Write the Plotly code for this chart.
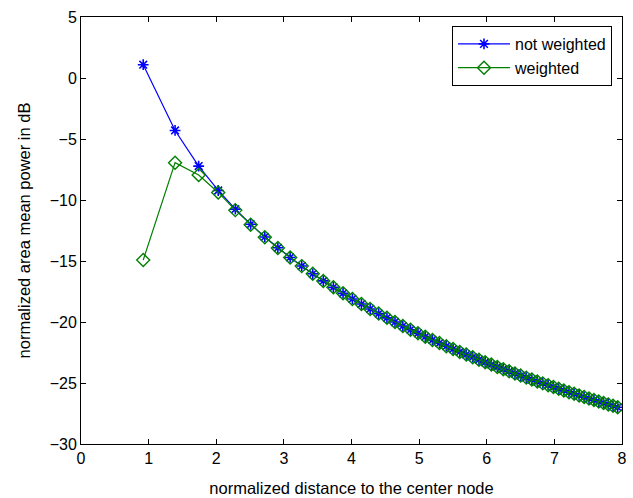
import plotly.graph_objects as go

distance = [0.92, 1.391, 1.740, 2.029, 2.282, 2.509, 2.718, 2.911, 3.093, 3.264,
            3.427, 3.583, 3.732, 3.875, 4.013, 4.147, 4.276, 4.402, 4.524, 4.643,
            4.759, 4.872, 4.983, 5.091, 5.197, 5.301, 5.402, 5.502, 5.601, 5.697,
            5.792, 5.885, 5.977, 6.068, 6.157, 6.245, 6.331, 6.417, 6.501, 6.585,
            6.667, 6.748, 6.828, 6.908, 6.986, 7.064, 7.140, 7.216, 7.292, 7.366,
            7.440, 7.512, 7.585, 7.656, 7.727, 7.797, 7.867, 7.936]

not_weighted = [1.09, -4.30, -7.22, -9.22, -10.75, -11.99, -13.03, -13.92, -14.71, -15.41,
                -16.05, -16.63, -17.16, -17.65, -18.11, -18.53, -18.93, -19.31, -19.66, -20.00,
                -20.33, -20.63, -20.93, -21.20, -21.47, -21.73, -21.98, -22.22, -22.45, -22.67,
                -22.88, -23.09, -23.30, -23.49, -23.68, -23.87, -24.04, -24.22, -24.39, -24.56,
                -24.72, -24.88, -25.03, -25.18, -25.33, -25.47, -25.61, -25.75, -25.88, -26.02,
                -26.15, -26.27, -26.40, -26.52, -26.64, -26.76, -26.87, -26.99]

weighted = [-14.92, -6.94, -7.95, -9.38, -10.83, -12.02, -13.05, -13.93, -14.72, -15.42,
            -16.05, -16.63, -17.16, -17.65, -18.11, -18.53, -18.93, -19.31, -19.66, -20.00,
            -20.33, -20.63, -20.93, -21.20, -21.47, -21.73, -21.98, -22.22, -22.45, -22.67,
            -22.88, -23.09, -23.30, -23.49, -23.68, -23.87, -24.04, -24.22, -24.39, -24.56,
            -24.72, -24.88, -25.03, -25.18, -25.33, -25.47, -25.61, -25.75, -25.88, -26.02,
            -26.15, -26.27, -26.40, -26.52, -26.64, -26.76, -26.87, -26.99]

x_ticks = [0, 1, 2, 3, 4, 5, 6, 7, 8]
y_ticks = [5, 0, -5, -10, -15, -20, -25, -30]

font_family = "Liberation Sans, Arial, Helvetica, sans-serif"

fig = go.Figure()
fig.add_trace(go.Scatter(
    x=distance, y=not_weighted, mode="lines+markers", name="not weighted",
    line=dict(color="#0000ff", width=1.2),
    marker=dict(symbol="asterisk-open", size=9, color="#0000ff",
                line=dict(color="#0000ff", width=1.6)),
))
fig.add_trace(go.Scatter(
    x=distance, y=weighted, mode="lines+markers", name="weighted",
    line=dict(color="#008000", width=1.2),
    marker=dict(symbol="diamond-open", size=10, color="#008000",
                line=dict(color="#008000", width=1.4)),
))

axis_common = dict(
    showgrid=False, zeroline=False, showline=True, linecolor="black", linewidth=1,
    mirror="ticks", ticks="inside", ticklen=5, tickcolor="black", tickwidth=1,
    tickfont=dict(family=font_family, size=16, color="black"),
    automargin=False,
)

fig.update_layout(
    width=633, height=498,
    margin=dict(l=81, r=11, t=17, b=54),
    paper_bgcolor="white", plot_bgcolor="white",
    font=dict(family=font_family, color="black"),
    xaxis=dict(range=[0, 8], tickvals=x_ticks,
               title=dict(text="normalized distance to the center node",
                          font=dict(family=font_family, size=16.5), standoff=16),
               **axis_common),
    yaxis=dict(range=[-30, 5], tickvals=y_ticks,
               title=dict(text="normalized area mean power in dB",
                          font=dict(family=font_family, size=16.5), standoff=14),
               **axis_common),
    legend=dict(x=0.9815, y=0.979, xanchor="right", yanchor="top",
                bgcolor="white", bordercolor="black", borderwidth=1,
                font=dict(family=font_family, size=16), tracegroupgap=0,
                itemwidth=52),
    showlegend=True,
)

fig.write_html(
    "out.html",
    config={"displayModeBar": False},
    post_script="document.body.style.margin='0';document.body.style.overflow='hidden';",
)
